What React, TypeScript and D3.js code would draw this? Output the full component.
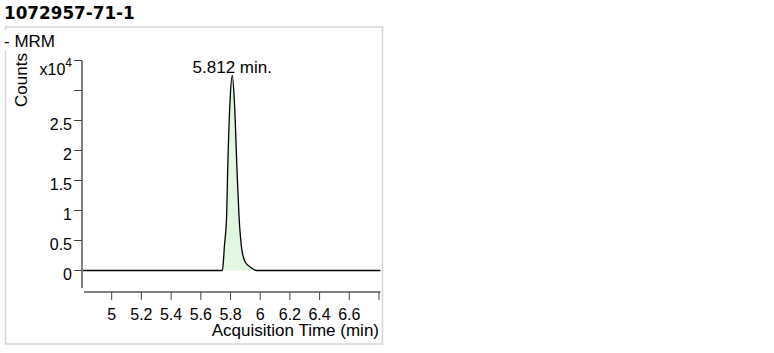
import React from 'react';
import * as d3 from 'd3';

// chromatogram trace (min, counts)
const times = [4.807, 5.745, 5.752, 5.758, 5.774, 5.781, 5.797, 5.812, 5.826, 5.844, 5.857, 5.875, 5.898, 5.943, 5.976, 6.81];
const counts = [0, 0, 1460, 3740, 9200, 16700, 28300, 32500, 28300, 16700, 9200, 3740, 1460, 400, 0, 0];

const xTicks = [5, 5.2, 5.4, 5.6, 5.8, 6, 6.2, 6.4, 6.6, 6.8];
const xTickLabels = ['5', '5.2', '5.4', '5.6', '5.8', '6', '6.2', '6.4', '6.6', ''];
const yTicks = [0, 5000, 10000, 15000, 20000, 25000, 30000, 35000];
const yTickLabels = ['0', '0.5', '1', '1.5', '2', '2.5', '', ''];

const title = '1072957-71-1';
const peakLabel = '5.812 min.';

const W = 774;
const H = 353;
const FONT = '"Liberation Sans", Arial, sans-serif';

const App: React.FC = () => {
  const x = d3.scaleLinear().domain([5, 6.8]).range([111.7, 379]);
  const y = d3.scaleLinear().domain([0, 35000]).range([270.5, 60.5]);

  const pts = times.map((t, i) => ({ t, c: counts[i] }));

  const line = d3.line<{ t: number; c: number }>()
    .x(d => x(d.t))
    .y(d => y(d.c))
    .curve(d3.curveMonotoneX);

  const area = d3.area<{ t: number; c: number }>()
    .x(d => x(d.t))
    .y0(y(0))
    .y1(d => y(d.c))
    .curve(d3.curveMonotoneX);

  // apex for the annotation
  const apex = pts.reduce((a, b) => (b.c > a.c ? b : a));

  const axisX = 82;
  const axisY = 292;

  return (
    <svg width={W} height={H} style={{ position: 'absolute', left: 0, top: 0, background: '#fff' }}>
      <text x={4} y={19} fontFamily='"DejaVu Sans", Verdana, sans-serif' fontWeight="bold" fontSize={16.8} fill="#000">
        {title}
      </text>

      {/* frame */}
      <rect x={5.5} y={27} width={377} height={317} fill="none" stroke="#d6d6d6" strokeWidth={1.5} />
      <rect x={0} y={30} width={62} height={20} fill="#fff" />
      <text x={4} y={47} fontFamily={FONT} fontSize={17} fill="#000">- MRM</text>

      <text transform="rotate(-90)" x={-80} y={27} textAnchor="middle" fontFamily={FONT} fontSize={17} fill="#000">
        Counts
      </text>

      {/* trace */}
      <defs>
        <clipPath id="plot">
          <rect x={axisX + 1} y={40} width={298} height={250} />
        </clipPath>
      </defs>
      <g clipPath="url(#plot)">
        <path d={area(pts) || ''} fill="#e1f7e1" stroke="none" />
        <path d={line(pts) || ''} fill="none" stroke="#000" strokeWidth={1.3} />
      </g>

      {/* y axis */}
      <line x1={axisX} x2={axisX} y1={y(35000)} y2={288} stroke="#808080" strokeWidth={2} />
      {yTicks.map((v, i) => (
        <g key={v}>
          <line x1={axisX - 8} x2={axisX} y1={y(v)} y2={y(v)} stroke="#404040" strokeWidth={1} />
          {yTickLabels[i] && (
            <text x={72} y={y(v) + 9.5} textAnchor="end" fontFamily={FONT} fontSize={16} fill="#000">
              {yTickLabels[i]}
            </text>
          )}
        </g>
      ))}
      <text x={72} y={y(35000) + 14} textAnchor="end" fontFamily={FONT} fontSize={16} fill="#000">
        x10<tspan dy={-8} fontSize={12}>4</tspan>
      </text>

      {/* x axis */}
      <line x1={84} x2={380.5} y1={axisY} y2={axisY} stroke="#808080" strokeWidth={2} />
      {xTicks.map((v, i) => (
        <g key={v}>
          <line x1={x(v)} x2={x(v)} y1={axisY} y2={axisY + 8} stroke="#404040" strokeWidth={1} />
          {xTickLabels[i] && (
            <text x={x(v)} y={319.5} textAnchor="middle" fontFamily={FONT} fontSize={16} fill="#000">
              {xTickLabels[i]}
            </text>
          )}
        </g>
      ))}
      <text x={379} y={336} textAnchor="end" fontFamily={FONT} fontSize={17} fill="#000">
        Acquisition Time (min)
      </text>

      <text x={x(apex.t)} y={y(apex.c) - 3} textAnchor="middle" fontFamily={FONT} fontSize={17} fill="#000">
        {peakLabel}
      </text>
    </svg>
  );
};

export default App;
